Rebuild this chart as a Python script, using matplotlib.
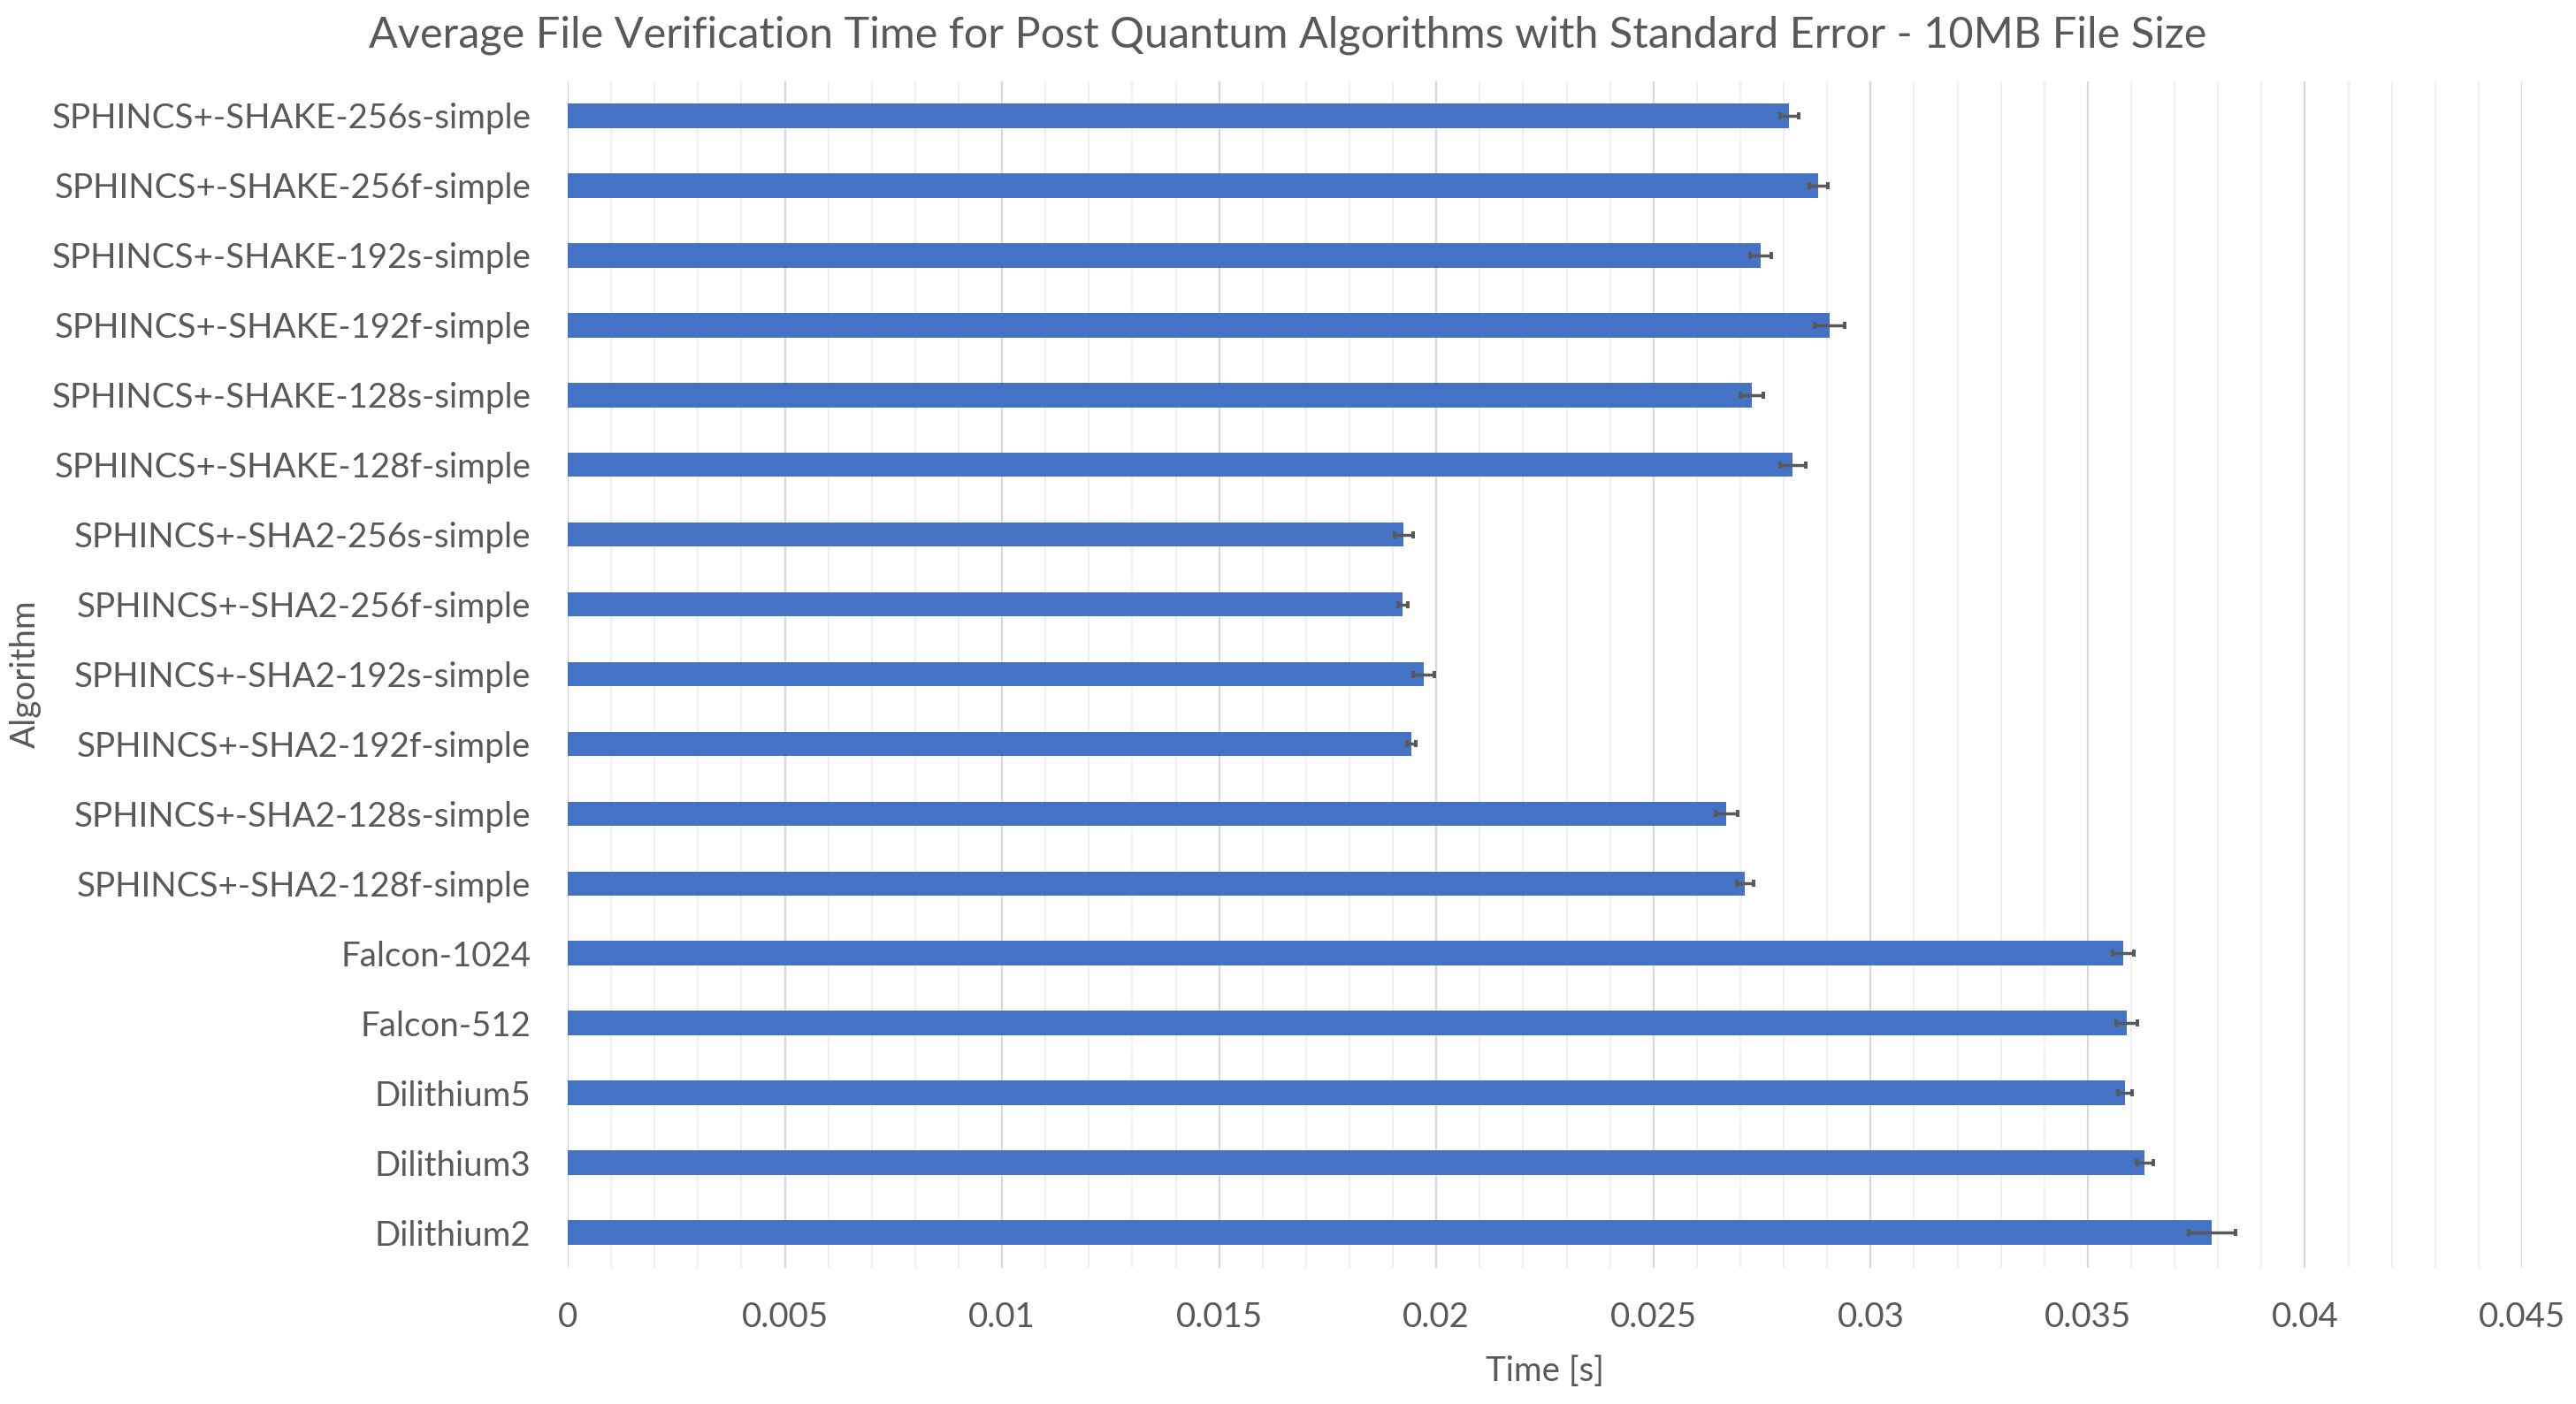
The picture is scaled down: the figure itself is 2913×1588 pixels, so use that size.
import matplotlib.pyplot as plt
from matplotlib.ticker import MultipleLocator, FuncFormatter

plt.rcParams['font.family'] = ['Lato', 'DejaVu Sans']

# Data (bottom to top, as drawn)
algorithms = ['Dilithium2', 'Dilithium3', 'Dilithium5', 'Falcon-512', 'Falcon-1024',
              'SPHINCS+-SHA2-128f-simple', 'SPHINCS+-SHA2-128s-simple',
              'SPHINCS+-SHA2-192f-simple', 'SPHINCS+-SHA2-192s-simple',
              'SPHINCS+-SHA2-256f-simple', 'SPHINCS+-SHA2-256s-simple',
              'SPHINCS+-SHAKE-128f-simple', 'SPHINCS+-SHAKE-128s-simple',
              'SPHINCS+-SHAKE-192f-simple', 'SPHINCS+-SHAKE-192s-simple',
              'SPHINCS+-SHAKE-256f-simple', 'SPHINCS+-SHAKE-256s-simple']
avg_time = [0.03786, 0.03631, 0.03586, 0.03590, 0.03582,
            0.02711, 0.02668, 0.01943, 0.01971, 0.01923, 0.01925,
            0.02821, 0.02727, 0.02906, 0.02747, 0.02880, 0.02813]
std_err = [0.00054, 0.00019, 0.00017, 0.00024, 0.00024,
           0.00020, 0.00025, 0.00010, 0.00024, 0.00012, 0.00021,
           0.00030, 0.00026, 0.00035, 0.00025, 0.00022, 0.00022]

text_col = '#595959'

fig = plt.figure(figsize=(29.13, 15.88), dpi=100)
ax = fig.add_axes([642 / 2913, 1 - 1433.5 / 1588, (2852 - 642) / 2913, (1433.5 - 91.5) / 1588])

ax.barh(range(len(algorithms)), avg_time, height=0.35, color='#4472C4', zorder=3)
ax.errorbar(avg_time, range(len(algorithms)), xerr=std_err, fmt='none',
            ecolor='#595959', elinewidth=2.5, capsize=2.9, capthick=2.9, zorder=4)

ax.set_xlim(0, 0.045)
ax.set_ylim(-0.5, len(algorithms) - 0.5)
ax.set_yticks(range(len(algorithms)))
ax.set_yticklabels(algorithms)

ax.xaxis.set_major_locator(MultipleLocator(0.005))
ax.xaxis.set_minor_locator(MultipleLocator(0.001))
ax.xaxis.set_major_formatter(FuncFormatter(lambda v, p: f'{v:g}'))
ax.grid(axis='x', which='major', color='#d9d9d9', linewidth=1.6, zorder=0)
ax.grid(axis='x', which='minor', color='#f0f0f0', linewidth=1.6, zorder=0)

for s in ax.spines.values():
    s.set_visible(False)
ax.tick_params(axis='both', which='both', length=0, labelsize=27.7, colors=text_col)
ax.tick_params(axis='y', pad=30)
ax.tick_params(axis='x', pad=28)

ax.set_xlabel('Time [s]', fontsize=27.7, color=text_col, labelpad=18)
ax.set_ylabel('Algorithm', fontsize=27.7, color=text_col, labelpad=8)

fig.text(0.5, 1 - 53 / 1588, 'Average File Verification Time for Post Quantum Algorithms with Standard Error - 10MB File Size',
         ha='center', va='baseline', fontsize=35, color=text_col)

fig.savefig('out.png', dpi=100)
